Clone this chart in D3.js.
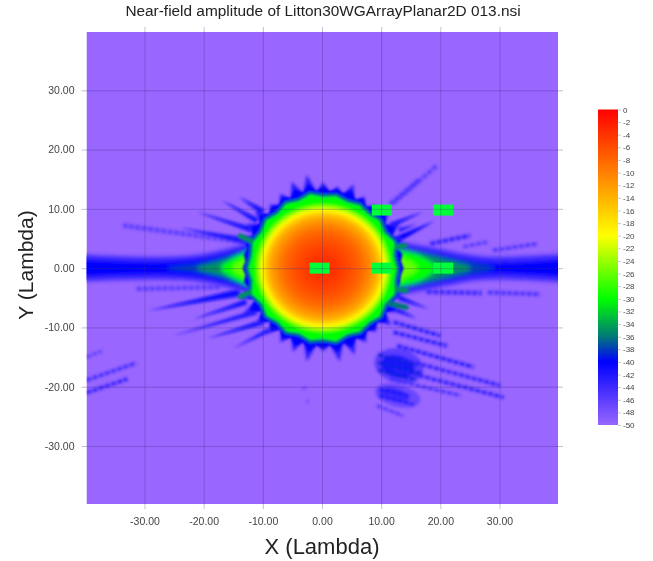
<!DOCTYPE html>
<html>
<head>
<meta charset="utf-8">
<script src="https://cdn.jsdelivr.net/npm/d3@7"></script>
<style>
  html, body { margin: 0; background: #fff; }
  text { font-family: "Liberation Sans", Arial, sans-serif; }
</style>
</head>
<body>
<div id="chart"></div>
<script>
// all values: lambda for positions, dB for amplitude
const xTicks = [-30, -20, -10, 0, 10, 20, 30];
const yTicks = [30, 20, 10, 0, -10, -20, -30];
const barTicks = d3.range(0, -52, -2);

const colorDb = [0, -10, -20, -30, -36, -40, -50];
const colorHex = ["#ff0000", "#ff8000", "#ffff00", "#00ff00", "#007878", "#0000ff", "#9966ff"];

// tips of the jagged edge, radius for each angle (5 degree steps, counter clockwise from +x)
const spikeEdge = [14,13.5,14,13,14.5,12.8,15,12.6,14.5,12.6,14,12.5,14,12.6,15,13,14,13,
  14.5,13,16,13.2,15.5,13,14.5,13,14,12.8,15,13,15,13,15.5,13.5,14,13.5,
  14,13.5,14,13,15,12.5,16,12.5,15,12.5,14.5,12.5,14.5,12.8,15,12.8,16,13,
  14,13,16,13,15.5,13,14.5,12.8,14,12.8,15,12.8,15,13,14,13.5,13.5,13.5];
// solid blue part of the same edge
const blueEdge = [13.6,13.2,13.6,13,13.8,12.9,14,12.8,13.8,12.8,13.5,12.7,13.5,12.8,14,13,13.5,13,
  13.8,13,14.4,13.1,14.2,13,13.8,13,13.5,12.9,14,13,14,13,14.2,13.2,13.6,13.2,
  13.6,13.2,13.6,13,14,12.7,14.4,12.7,14,12.7,13.8,12.7,13.8,12.9,14,12.9,14.4,13,
  13.5,13,14.4,13,14.2,13,13.8,12.9,13.5,12.9,14,12.9,14,13,13.5,13.2,13.2,13.2];
// green rim, 10 degree steps
const greenEdge = [12.4,12,12.8,11.9,12.4,11.8,12.2,11.8,12.3,12,12.6,12,12.5,11.9,12.5,12,12.6,12.2,
  12.6,12.1,12.8,11.9,12.4,11.8,12.3,11.7,12.3,11.9,12.5,11.8,12.3,11.9,12.5,12,12.8,12.2];
const tealEdge = [12.9,12.5,13.3,12.4,12.9,12.3,12.7,12.3,12.8,12.5,13.1,12.5,13,12.4,13,12.5,13.1,12.7,
  13.1,12.6,13.3,12.4,12.9,12.3,12.8,12.2,12.8,12.4,13,12.3,12.8,12.4,13,12.5,13.3,12.7];

// disc shading, radial stops
const discR = [0, 2, 4, 6, 7, 8, 9, 9.6, 10.3, 10.8, 11.2, 11.6];
const discDb = [-3, -4, -5.5, -7.5, -9, -11, -13.5, -16, -19.5, -23, -26, -29];
const discSquash = 0.95;

// horizontal beam layers, half width per x
const beamLeftX = [-41, -34, -28, -24, -20, -17, -14, -11, -8];
const beamRightX = [8, 11, 14, 18, 22, 26, 30, 34, 41];
const beamFringeLeft = [2.3, 2.0, 1.9, 2.0, 2.4, 3.0, 3.8, 4.5, 4.8];
const beamFringeRight = [4.8, 4.6, 4.3, 3.6, 2.8, 2.1, 1.9, 2.0, 2.4];
const beamBlueLeft = [1.5, 1.2, 1.1, 1.3, 1.7, 2.3, 3.1, 3.9, 4.4];
const beamBlueRight = [4.4, 3.9, 3.5, 2.8, 2.0, 1.3, 1.0, 1.1, 1.5];
const beamDeepLeftX = [-26, -22, -20, -17, -14, -11, -8];
const beamDeepLeft = [0.2, 0.6, 1.0, 1.7, 2.8, 3.7, 4.2];
const beamDeepRightX = [8, 11, 14, 18, 22, 26, 29];
const beamDeepRight = [4.2, 3.9, 3.4, 2.6, 1.7, 0.9, 0.2];
const beamTealLeftX = [-21, -19, -17, -14, -11, -8];
const beamTealLeft = [0.3, 0.8, 1.3, 2.4, 3.4, 4];
const beamTealRightX = [8, 11, 14, 18, 22, 25];
const beamTealRight = [4, 3.6, 3.1, 2.2, 1.2, 0.4];
const beamGreenLeftX = [-17, -16, -14, -11, -8];
const beamGreenLeft = [0.5, 1.1, 2.2, 3.2, 3.8];
const beamGreenRightX = [8, 11, 14, 17, 19];
const beamGreenRight = [3.8, 3.4, 2.8, 1.9, 0.6];
const beamLimeLeftX = [-15, -13, -11, -8];
const beamLimeLeft = [0.5, 1.6, 2.5, 3.2];
const beamLimeRightX = [8, 11, 14, 16];
const beamLimeRight = [3.2, 2.6, 1.6, 0.4];

// tapered side lobes: x0, y0, x1, y1, width at the root, dB
const spikes = [
  [-11.7,6.4,-21.2,9.5,0.9,-41], [-13,4.6,-24,6.8,1.2,-42], [-11,8,-17,11.5,0.9,-41], [-10,9.5,-14,12,1,-41],
  [-13.9,-4.1,-29.4,-7.2,1.3,-41], [-12.8,-5.7,-21.8,-8.6,0.9,-41],
  [-11.1,-7.4,-25.2,-11.4,0.9,-42], [-10,-9.1,-19.5,-11.9,0.9,-41], [-9,-10.5,-15,-13.5,0.8,-42],
  [11.5,7.2,17.1,9.5,0.8,-41], [12.4,4.7,19.1,8,1.1,-40], [13,6.4,16,7.4,0.7,-42],
  [13,-5,18,-6.9,0.8,-41], [12.5,-7,16,-8.5,0.8,-41]
];
// faint stippled ripples: x0, y0, x1, y1, width, dB
const ripples = [
  [-13.3,4.4,-33.6,7.2,0.8,-46], [-17.3,-3.2,-31.4,-3.5,0.8,-46],
  [-39.8,-18.9,-31.4,-16,0.6,-44], [-39.8,-21,-32.9,-18.7,0.6,-43], [-39.8,-15,-37.2,-14,0.5,-46],
  [-3.4,-20.4,-2.6,-20.1,0.3,-46], [-2.6,-22.5,-2.3,-22.5,0.5,-45],
  [12.1,10.9,19.4,17.3,0.7,-46], [11.5,10.8,16.5,15,0.7,-45],
  [18.3,4.1,25,5.5,0.7,-43], [23.9,3.6,27.9,4.4,0.5,-45], [28.9,3,36.3,4.1,0.6,-45],
  [17.7,-4,27,-4.2,0.8,-44], [28,-4.1,36.9,-4.4,0.7,-45],
  [12.1,-9.1,20,-11.4,0.6,-42], [12.1,-10.8,21.1,-13.1,0.6,-42],
  [12.7,-13.1,25.6,-16.7,0.6,-42], [11.5,-14.8,30.1,-19.8,0.6,-43],
  [12.1,-17,30.7,-21.8,0.6,-43], [11.5,-18.7,23.4,-21.5,0.5,-44],
  [9.5,-14.6,16,-16.4,0.6,-39], [9.5,-15.9,17,-17.8,0.6,-39], [9.5,-17.2,16,-18.9,0.6,-39],
  [9.6,-20.4,15,-21.6,0.5,-41], [9.6,-21.6,15.5,-23,0.5,-41],
  [9.3,-23.2,13.7,-24.9,0.5,-45]
];
// diffuse patches under the ripples: cx, cy, rx, ry, dB
const blobs = [
  [13, -16.5, 4.2, 2.9, -46], [12.8, -16.6, 2.9, 1.9, -42],
  [12.8, -21.5, 3.9, 1.9, -47], [12.2, -21.3, 2.6, 1.1, -44]
];
// green bumps hanging off the rim: x0, y0, x1, y1, width, dB
const rimBumps = [
  [-12,4.6,-13.8,5.4,0.9,-35], [-12,-4,-13.8,-4.8,0.9,-35],
  [11.5,3.4,14,3.8,0.9,-35], [12,-3.4,14.2,-3.8,0.9,-35], [11.5,-6,14.2,-6.6,0.9,-36]
];

// the five green patches: centre x, centre y
const patchX = [-0.4, 10.1, 20.5, 10.1, 20.5];
const patchY = [0, 0, 0, 9.8, 9.8];

const W = 653, H = 561;
const plot = {left: 86.5, right: 558, top: 32, bottom: 504};

const xScale = d3.scaleLinear().domain([-30, 30]).range([144.5, 499.5]);
const yScale = d3.scaleLinear().domain([30, -30]).range([90.3, 446]);
const lambdaPx = xScale(1) - xScale(0);
const color = d3.scaleLinear().domain(colorDb).range(colorHex).interpolate(d3.interpolateRgb);
const tickFmt = v => d3.format(".2f")(v).replace("\u2212", "-");

const svg = d3.select("#chart").append("svg")
  .attr("width", W).attr("height", H)
  .style("display", "block");

const defs = svg.append("defs");
defs.append("clipPath").attr("id", "plotClip").append("rect")
  .attr("x", plot.left).attr("y", plot.top)
  .attr("width", plot.right - plot.left).attr("height", plot.bottom - plot.top);
function blurFilter(id, amount) {
  defs.append("filter").attr("id", id)
    .attr("filterUnits", "userSpaceOnUse")
    .attr("x", 0).attr("y", 0).attr("width", W).attr("height", H)
    .append("feGaussianBlur").attr("stdDeviation", amount);
}
blurFilter("blurFar", 1.5);
blurFilter("blurBeam", 2.2);
blurFilter("blurEdge", 1.1);
blurFilter("blurText", 0.3);

const map = svg.append("g").attr("clip-path", "url(#plotClip)");
map.append("rect")
  .attr("x", plot.left).attr("y", plot.top)
  .attr("width", plot.right - plot.left).attr("height", plot.bottom - plot.top)
  .attr("fill", color(-50));

function edgePath(radii) {
  const step = 2 * Math.PI / radii.length;
  return d3.line()
    .x((r, i) => xScale(0.2 + r * Math.cos(i * step)))
    .y((r, i) => yScale(r * Math.sin(i * step)))
    .curve(d3.curveLinearClosed)(radii);
}

// side lobes first, the main lobe goes over them
const far = map.append("g").attr("filter", "url(#blurFar)");
far.selectAll("ellipse").data(blobs).join("ellipse")
  .attr("cx", d => xScale(d[0])).attr("cy", d => yScale(d[1]))
  .attr("rx", d => d[2] * lambdaPx).attr("ry", d => d[3] * lambdaPx)
  .attr("transform", d => `rotate(14 ${xScale(d[0])} ${yScale(d[1])})`)
  .attr("fill", d => color(d[4]));
far.selectAll("line").data(ripples).join("line")
  .attr("x1", d => xScale(d[0])).attr("y1", d => yScale(d[1]))
  .attr("x2", d => xScale(d[2])).attr("y2", d => yScale(d[3]))
  .attr("stroke", d => color(d[5]))
  .attr("stroke-width", d => d[4] * lambdaPx)
  .attr("stroke-dasharray", "5 1.5");

function taper(d) {
  const dx = d[2] - d[0], dy = d[3] - d[1], len = Math.hypot(dx, dy);
  const nx = -dy / len * d[4] / 2, ny = dx / len * d[4] / 2;
  return d3.line().x(p => xScale(p[0])).y(p => yScale(p[1]))
    ([[d[0] + nx, d[1] + ny], [d[2], d[3]], [d[0] - nx, d[1] - ny]]) + "Z";
}
far.selectAll("path.spike").data(spikes).join("path")
  .attr("class", "spike").attr("d", taper).attr("fill", d => color(d[5]));
far.append("path").attr("d", edgePath(spikeEdge)).attr("fill", color(-43));

const beamGroup = map.append("g").attr("filter", "url(#blurBeam)");
const beam = d3.area()
  .x(d => xScale(d[0]))
  .y0(d => yScale(d[1]))
  .y1(d => yScale(-d[1]))
  .curve(d3.curveMonotoneX);
const beamLayers = [
  [beamLeftX, beamFringeLeft, -44], [beamRightX, beamFringeRight, -44],
  [beamLeftX, beamBlueLeft, -40], [beamRightX, beamBlueRight, -40],
  [beamDeepLeftX, beamDeepLeft, -38], [beamDeepRightX, beamDeepRight, -38],
  [beamTealLeftX, beamTealLeft, -35], [beamTealRightX, beamTealRight, -35],
  [beamGreenLeftX, beamGreenLeft, -30], [beamGreenRightX, beamGreenRight, -30],
  [beamLimeLeftX, beamLimeLeft, -26], [beamLimeRightX, beamLimeRight, -26]
];
beamLayers.forEach(([xs, hs, db]) => {
  beamGroup.append("path")
    .attr("d", beam(xs.map((v, i) => [v, hs[i]])))
    .attr("fill", color(db));
});

const edge = map.append("g").attr("filter", "url(#blurEdge)");
edge.append("path").attr("d", edgePath(blueEdge)).attr("fill", color(-40));
edge.append("path").attr("d", edgePath(tealEdge)).attr("fill", color(-36));
edge.selectAll("line").data(rimBumps).join("line")
  .attr("x1", d => xScale(d[0])).attr("y1", d => yScale(d[1]))
  .attr("x2", d => xScale(d[2])).attr("y2", d => yScale(d[3]))
  .attr("stroke", d => color(d[5]))
  .attr("stroke-width", d => d[4] * lambdaPx)
  .attr("stroke-linecap", "round");
edge.append("path").attr("d", edgePath(greenEdge)).attr("fill", color(-30));

const discMax = d3.max(discR);
const discGrad = defs.append("radialGradient").attr("id", "discGrad");
discGrad.selectAll("stop").data(discR).join("stop")
  .attr("offset", d => d / discMax)
  .attr("stop-color", (d, i) => color(discDb[i]));
edge.append("ellipse")
  .attr("cx", xScale(0.2)).attr("cy", yScale(0))
  .attr("rx", discMax * lambdaPx)
  .attr("ry", discMax * lambdaPx * discSquash)
  .attr("fill", "url(#discGrad)");

// green patches sit on top, sharp edged
map.selectAll("rect.patch").data(patchX).join("rect")
  .attr("class", "patch")
  .attr("x", (d, i) => xScale(d) - 10).attr("y", (d, i) => yScale(patchY[i]) - 5.5)
  .attr("width", 20).attr("height", 11)
  .attr("fill", "#00ff38");

// axes, gridlines run over the map; a light blur on the group softens the labels like the scan
const labels = svg.append("g").attr("filter", "url(#blurText)");
const xAxis = labels.append("g").attr("transform", `translate(0,${plot.bottom})`)
  .call(d3.axisBottom(xScale).tickValues(xTicks).tickFormat(tickFmt).tickSizeOuter(0).tickPadding(8));
const yAxis = labels.append("g").attr("transform", `translate(${plot.left},0)`)
  .call(d3.axisLeft(yScale).tickValues(yTicks).tickFormat(tickFmt).tickSizeOuter(0).tickPadding(6));
xAxis.select(".domain").remove();
yAxis.select(".domain").remove();
xAxis.selectAll(".tick line").attr("y1", 5).attr("y2", plot.top - plot.bottom - 5);
yAxis.selectAll(".tick line").attr("x1", -5).attr("x2", plot.right - plot.left + 5);
labels.selectAll(".tick line").attr("stroke", "#3c2a78").attr("stroke-opacity", 0.3).attr("stroke-width", 1);
labels.selectAll(".tick text").style("font-size", "10.5px").attr("fill", "#444");

labels.append("text").attr("x", 323).attr("y", 16)
  .attr("text-anchor", "middle").style("font-size", "15.4px").attr("fill", "#222")
  .text("Near-field amplitude of Litton30WGArrayPlanar2D 013.nsi");
labels.append("text").attr("x", 322).attr("y", 554)
  .attr("text-anchor", "middle").style("font-size", "22px").attr("fill", "#222")
  .text("X (Lambda)");
labels.append("text").attr("transform", "translate(33,265) rotate(-90)")
  .attr("text-anchor", "middle").style("font-size", "21px").attr("fill", "#222")
  .text("Y (Lambda)");

// colour bar
const barScale = d3.scaleLinear().domain([0, -50]).range([109.5, 425]);
const barSpan = barScale(-50) - barScale(0);
const grad = defs.append("linearGradient").attr("id", "barGrad")
  .attr("x1", 0).attr("x2", 0).attr("y1", 0).attr("y2", 1);
grad.selectAll("stop").data(colorDb).join("stop")
  .attr("offset", d => (barScale(d) - barScale(0)) / barSpan)
  .attr("stop-color", d => color(d));
svg.append("rect")
  .attr("x", 598).attr("y", barScale(0))
  .attr("width", 20).attr("height", barSpan)
  .attr("fill", "url(#barGrad)");
const barAxis = labels.append("g").attr("transform", "translate(618,0)")
  .call(d3.axisRight(barScale).tickValues(barTicks).tickSize(3).tickPadding(2).tickFormat(v => String(v)));
barAxis.select(".domain").remove();
barAxis.selectAll(".tick line").attr("stroke", "#ccc");
barAxis.selectAll(".tick text").style("font-size", "8px").attr("fill", "#444");
</script>
</body>
</html>
